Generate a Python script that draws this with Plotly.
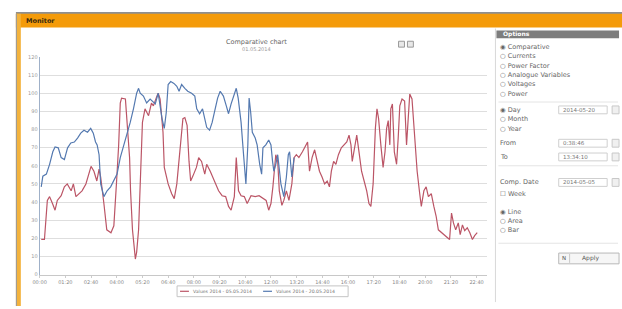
import plotly.graph_objects as go

W, H = 622, 309

# ---------------- data ----------------
blue_t = [5, 10, 21, 31, 41, 48, 58, 67, 77, 87, 97, 108, 118, 128, 138, 149, 159, 167, 174, 179, 185,
          190, 200, 210, 221, 231, 241, 251, 262, 272, 282, 292, 302, 308, 313, 323, 333, 344, 360, 369,
          381, 388, 394, 400, 408, 418, 427, 434, 442, 452, 461, 473, 483, 489, 498, 507, 514, 520, 529,
          537, 545, 554, 562, 572, 581, 588, 596, 606, 612, 618, 627, 634, 642, 648, 652, 657, 662, 671,
          677, 685, 691, 695, 704, 713, 720, 725, 729, 735, 741, 751, 760, 768, 774, 778, 785, 792]
blue_v = [48.4, 54.3, 55.4, 60.8, 67.7, 70.4, 69.9, 64.5, 63.4, 69.9, 72.6, 73.1, 75.3, 78.0, 79.6, 78.5,
          80.6, 78.0, 73.1, 71.5, 66.1, 50.0, 43.0, 46.2, 48.4, 51.6, 55.4, 64.5, 71.5, 76.9, 83.9, 91.4,
          100.0, 102.7, 100.0, 98.4, 94.6, 96.8, 94.1, 100.0, 86.0, 80.6, 89.2, 104.8, 106.4, 105.4, 103.8,
          101.1, 104.8, 102.7, 101.1, 100.0, 98.4, 91.4, 88.7, 91.4, 86.6, 81.2, 79.6, 83.9, 90.3, 97.3,
          101.1, 98.4, 93.0, 88.7, 94.1, 99.5, 102.7, 97.3, 83.9, 67.7, 50.0, 71.5, 97.3, 89.2, 78.5, 75.3,
          71.5, 60.8, 55.4, 69.9, 71.5, 74.2, 71.5, 62.4, 57.0, 60.8, 66.1, 50.0, 43.0, 53.8, 66.1, 67.7,
          53.8, 64.5]

red_t = [5, 15, 24, 31, 40, 48, 55, 67, 77, 86, 98, 105, 113, 123, 132, 144, 154, 160, 169, 178, 185,
         190, 200, 209, 222, 231, 239, 246, 251, 255, 267, 274, 280, 283, 289, 298, 302, 308, 314, 320,
         328, 339, 348, 354, 365, 369, 375, 384, 388, 400, 411, 419, 427, 437, 446, 452, 459, 465, 470,
         477, 488, 495, 504, 514, 520, 531, 545, 557, 568, 579, 588, 596, 606, 612, 619, 627, 637, 646,
         658, 671, 683, 699, 705, 713, 720, 726, 735, 741, 746, 754, 760, 768, 776, 785, 792, 799, 807,
         818, 828, 834, 840, 848, 856, 864, 871, 879, 887, 895, 902, 908, 915, 922, 930, 939, 949, 956,
         963, 969, 973, 982, 987, 994, 1002, 1010, 1018, 1025, 1031, 1038, 1045, 1050, 1055, 1062, 1069,
         1075, 1080, 1085, 1090, 1093, 1098, 1104, 1111, 1116, 1121, 1128, 1136, 1142, 1147, 1152, 1159,
         1167, 1175, 1183, 1188, 1196, 1203, 1210, 1219, 1227, 1234, 1241, 1251, 1262, 1270, 1276, 1282,
         1288, 1295, 1303, 1309, 1316, 1323, 1331, 1339, 1347, 1354, 1362]
red_v = [19.4, 19.4, 40.9, 43.0, 39.2, 35.5, 40.9, 43.5, 48.4, 50.0, 46.2, 50.0, 43.0, 44.6, 46.2, 50.0,
         57.0, 59.7, 57.0, 51.6, 58.1, 53.8, 39.2, 24.7, 23.1, 26.9, 50.0, 71.5, 94.6, 97.3, 96.8, 80.6,
         64.5, 46.2, 24.7, 8.6, 12.4, 24.7, 53.8, 83.9, 91.4, 87.6, 94.6, 93.0, 98.4, 100.0, 96.8, 78.5,
         59.1, 50.0, 44.6, 41.9, 50.0, 67.7, 86.0, 86.6, 82.3, 62.4, 51.6, 54.3, 59.1, 64.5, 62.4, 55.4,
         60.8, 57.0, 51.6, 46.2, 43.5, 43.0, 37.6, 35.5, 43.0, 64.5, 46.2, 43.5, 43.0, 39.2, 43.5, 43.0,
         43.5, 41.9, 40.9, 35.5, 39.2, 48.4, 66.1, 62.4, 46.2, 38.2, 40.9, 46.2, 40.9, 50.0, 64.5, 66.1,
         64.5, 67.7, 71.5, 73.1, 57.0, 64.5, 68.8, 62.4, 57.0, 53.8, 50.0, 51.6, 48.4, 57.0, 62.4, 60.8,
         66.1, 69.9, 71.5, 73.1, 76.9, 71.5, 62.4, 71.5, 76.9, 67.7, 57.0, 51.6, 46.2, 39.2, 37.6, 50.0,
         80.6, 91.4, 86.0, 71.5, 59.1, 67.7, 80.6, 84.9, 71.5, 91.4, 94.1, 67.7, 60.8, 75.3, 93.0, 96.8,
         95.7, 71.5, 89.2, 99.5, 96.8, 78.5, 57.0, 44.6, 37.6, 46.2, 48.4, 43.0, 44.6, 37.6, 32.3, 24.7,
         23.1, 21.5, 20.4, 19.4, 33.9, 28.5, 24.7, 28.5, 22.0, 27.4, 24.2, 25.8, 23.1, 19.4, 21.5, 23.1]

x_tickvals = [0, 80, 160, 240, 320, 400, 480, 560, 640, 720, 800, 880, 960, 1040, 1120, 1200, 1280, 1360]
x_ticktext = ["00:00", "01:20", "02:40", "04:00", "05:20", "06:40", "08:00", "09:20", "10:40",
              "12:00", "13:20", "14:40", "16:00", "17:20", "18:40", "20:00", "21:20", "22:40"]
y_tickvals = [0, 10, 20, 30, 40, 50, 60, 70, 80, 90, 100, 110, 120]

series_names = ["Values 2014 - 05.05.2014", "Values 2014 - 20.05.2014"]
series_colors = ["#bb5566", "#5479b0"]

panel_items = ["◉ Comparative", "○ Currents", "○ Power Factor", "○ Analogue Variables", "○ Voltages", "○ Power"]
period_items = ["◉ Day", "○ Month", "○ Year"]
type_items = ["◉ Line", "○ Area", "○ Bar"]

# ---------------- helpers (pixel -> paper) ----------------
def px(x):
    return x / W

def py(y):
    return 1 - y / H

fig = go.Figure()
fig.add_trace(go.Scatter(x=red_t, y=red_v, mode="lines", name=series_names[0],
                         line=dict(color=series_colors[0], width=1.2)))
fig.add_trace(go.Scatter(x=blue_t, y=blue_v, mode="lines", name=series_names[1],
                         line=dict(color=series_colors[1], width=1.2)))

shapes = []
shapes.append(dict(type="rect", xref="paper", yref="paper", x0=px(9), x1=px(622), y0=py(11), y1=py(9.5),
                   fillcolor="#6a6a6a", line_width=0, layer="below"))
shapes.append(dict(type="rect", xref="paper", yref="paper", x0=px(9), x1=px(622), y0=py(25), y1=py(11),
                   fillcolor="#f49b0a", line_width=0, layer="below"))
shapes.append(dict(type="rect", xref="paper", yref="paper", x0=px(9), x1=px(14), y0=py(309), y1=py(11),
                   fillcolor="#f3b23c", line_width=0, layer="below"))
shapes.append(dict(type="line", xref="paper", yref="paper", x0=px(9.5), x1=px(9.5), y0=py(309), y1=py(11),
                   line=dict(color="#9a9a9a", width=1), layer="below"))
shapes.append(dict(type="line", xref="paper", yref="paper", x0=px(494), x1=px(494), y0=py(305), y1=py(26),
                   line=dict(color="#d8d8d8", width=1), layer="below"))
shapes.append(dict(type="rect", xref="paper", yref="paper", x0=px(495), x1=px(619), y0=py(36), y1=py(28),
                   fillcolor="#7d7d7d", line_width=0, layer="below"))
for yy in [101, 166, 245]:
    shapes.append(dict(type="line", xref="paper", yref="paper", x0=px(497), x1=px(618), y0=py(yy), y1=py(yy),
                       line=dict(color="#e4e4e4", width=1), layer="below"))
for (y0, y1, x0, x1) in [(105, 113, 558, 607), (139, 147, 558, 607), (153, 161, 558, 607), (179, 187, 558, 607)]:
    shapes.append(dict(type="rect", xref="paper", yref="paper", x0=px(x0), x1=px(x1), y0=py(y1), y1=py(y0),
                       fillcolor="white", line=dict(color="#cfcfcf", width=1), layer="below"))
    shapes.append(dict(type="rect", xref="paper", yref="paper", x0=px(612), x1=px(619), y0=py(y1), y1=py(y0),
                       fillcolor="#f0f0f0", line=dict(color="#c8c8c8", width=1), layer="below"))
shapes.append(dict(type="rect", xref="paper", yref="paper", x0=px(558), x1=px(619), y0=py(266), y1=py(255),
                   fillcolor="#f6f6f6", line=dict(color="#b8b8b8", width=1), layer="below"))
shapes.append(dict(type="line", xref="paper", yref="paper", x0=px(569), x1=px(569), y0=py(265), y1=py(256),
                   line=dict(color="#c8c8c8", width=1), layer="below"))
for xx in [396, 405]:
    shapes.append(dict(type="rect", xref="paper", yref="paper", x0=px(xx), x1=px(xx + 6), y0=py(45), y1=py(39),
                       fillcolor="#e8e8e8", line=dict(color="#9a9a9a", width=1), layer="above"))

# legend box (drawn as decoration, using the series names/colours)
shapes.append(dict(type="rect", xref="paper", yref="paper", x0=px(172), x1=px(345), y0=py(299.5), y1=py(288.5),
                   fillcolor="white", line=dict(color="#c4c4c4", width=1), layer="above"))

annotations = []
def txt(x, y, s, size=6.5, color="#555", anchor="left", bold=False):
    annotations.append(dict(xref="paper", yref="paper", x=px(x), y=py(y), text=("<b>%s</b>" % s) if bold else s,
                            showarrow=False, xanchor=anchor, yanchor="middle",
                            font=dict(size=size, color=color, family="DejaVu Sans")))

legend_x = [175, 259]
for lx, name, col in zip(legend_x, series_names, series_colors):
    shapes.append(dict(type="line", xref="paper", yref="paper", x0=px(lx), x1=px(lx + 9), y0=py(294), y1=py(294),
                       line=dict(color=col, width=1.2), layer="above"))
    txt(lx + 11, 294, name, 4.6, "#777")

txt(17, 18, "Monitor", 6.5, "#3a2a10", bold=True)
txt(500, 32, "Options", 6, "#ffffff", bold=True)
txt(252, 40, "Comparative chart", 6.5, "#666", "center")
txt(252, 47, "01.05.2014", 5, "#999", "center")

for i, s in enumerate(panel_items):
    txt(497, 45 + i * 9.5, s, 6.5, "#666")
for i, s in enumerate(period_items):
    txt(497, 109 + i * 9.5, s, 6.5, "#666")
txt(560, 109, "2014-05-20", 5.5, "#777")
txt(497, 143, "From", 6.5, "#666")
txt(560, 143, "0:38:46", 5.5, "#777")
txt(497, 157, "To", 6.5, "#666")
txt(560, 157, "13:34:10", 5.5, "#777")
txt(497, 183, "Comp. Date", 6.5, "#666")
txt(560, 183, "2014-05-05", 5.5, "#777")
txt(497, 195, "☐ Week", 6.5, "#666")
for i, s in enumerate(type_items):
    txt(497, 213 + i * 9.5, s, 6.5, "#666")
txt(563, 260.5, "N", 5.5, "#555", "center")
txt(590, 260.5, "Apply", 6, "#555", "center")

fig.update_layout(
    width=W, height=H, autosize=False,
    margin=dict(l=0, r=0, t=0, b=0),
    paper_bgcolor="white", plot_bgcolor="white",
    shapes=shapes, annotations=annotations,
    showlegend=False,
    xaxis=dict(domain=[px(33), px(485)], range=[0, 1391],
               tickmode="array", tickvals=x_tickvals, ticktext=x_ticktext,
               tickfont=dict(size=5, color="#888", family="DejaVu Sans"),
               showgrid=False, zeroline=False, showline=True, linecolor="#c8c8c8", linewidth=1,
               ticks="outside", ticklen=2, tickcolor="#ccc", fixedrange=True),
    yaxis=dict(domain=[py(277), py(55)], range=[0, 120],
               tickmode="array", tickvals=y_tickvals,
               tickfont=dict(size=5, color="#999", family="DejaVu Sans"),
               showgrid=True, gridcolor="#dedede", gridwidth=1, zeroline=False,
               showline=True, linecolor="#9fb0c8", linewidth=1, ticks="", fixedrange=True),
)

fig.write_html("out.html", config={"displayModeBar": False},
               post_script="document.body.style.margin='0';document.body.style.overflow='hidden';")
